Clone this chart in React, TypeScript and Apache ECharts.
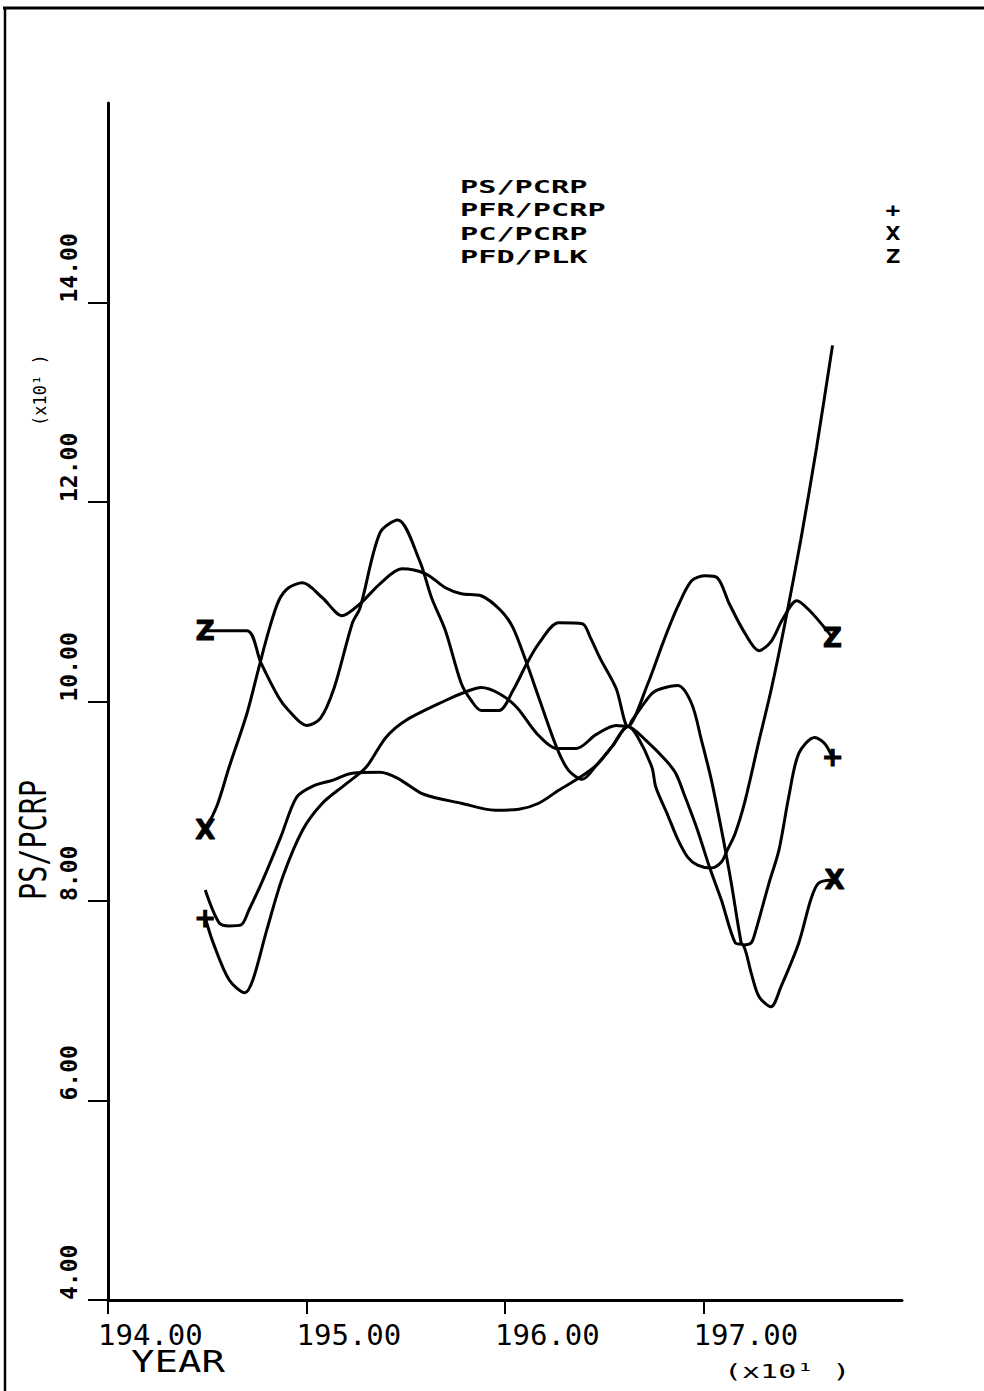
import React, { useEffect, useRef } from "react";
import * as echarts from "echarts";

const xTickValues = [1940, 1950, 1960, 1970];
const yTickValues = [40, 60, 80, 100, 120, 140];
const legendNames = ["PS/PCRP", "PFR/PCRP", "PC/PCRP", "PFD/PLK"];
const legendSymbols = ["", "+", "X", "Z"];

const psPcrp: [number, number][] = [
  [1944.9, 81.1], [1945.6, 77.8], [1946.1, 77.5], [1946.7, 77.6], [1947.1, 79.1],
  [1947.8, 82.1], [1948.7, 86.4], [1949.5, 90.4], [1950.3, 91.5], [1951.3, 92.1],
  [1952.3, 92.8], [1953.7, 92.9], [1954.6, 92.3], [1955.9, 90.7], [1957.8, 89.8],
  [1959.5, 89.1], [1960.7, 89.2], [1961.7, 89.8], [1962.7, 91.1], [1963.7, 92.3],
  [1964.6, 93.6], [1965.4, 95.5], [1966.2, 97.5], [1966.7, 96.4], [1967.4, 93.4],
  [1967.6, 91.4], [1968.2, 88.6], [1968.7, 86.2], [1969.2, 84.4], [1969.7, 83.6],
  [1970.4, 83.3], [1970.9, 83.9], [1971.2, 85.1], [1971.6, 86.8], [1972.1, 90.1],
  [1972.8, 96.1], [1973.4, 101.1], [1974.1, 107.8], [1974.9, 116.2], [1975.7, 125.5],
  [1976.5, 135.7],
];

const pfrPcrp: [number, number][] = [
  [1944.9, 78.3], [1945.3, 75.8], [1946.1, 72.1], [1946.9, 70.8], [1947.3, 72.1],
  [1948.0, 77.1], [1948.8, 82.4], [1949.8, 87.1], [1950.8, 89.8], [1951.9, 91.6],
  [1953.0, 93.4], [1954.0, 96.4], [1955.0, 98.1], [1957.0, 100.1], [1958.2, 101.1],
  [1958.8, 101.4], [1959.7, 100.8], [1960.6, 99.4], [1961.6, 96.8], [1962.6, 95.3],
  [1963.6, 95.3], [1964.6, 96.7], [1965.6, 97.6], [1966.2, 97.5], [1966.4, 98.1],
  [1967.4, 100.8], [1967.9, 101.3], [1968.7, 101.6], [1969.4, 99.8], [1969.9, 96.1],
  [1970.4, 92.1], [1970.9, 87.2], [1971.1, 85.1], [1971.4, 81.8], [1971.9, 75.8],
  [1972.0, 75.6], [1972.4, 75.8], [1972.6, 76.8], [1973.3, 81.8], [1973.8, 85.1],
  [1974.3, 90.5], [1974.8, 94.8], [1975.6, 96.4], [1976.1, 95.8], [1976.5, 94.4],
];

const pcPcrp: [number, number][] = [
  [1944.9, 87.1], [1945.5, 89.6], [1946.1, 93.4], [1947.0, 98.8], [1947.6, 103.4],
  [1948.1, 107.1], [1948.6, 110.1], [1949.1, 111.4], [1949.8, 111.9], [1950.8, 110.4],
  [1951.8, 108.6], [1952.7, 109.8], [1953.7, 111.8], [1954.8, 113.3], [1956.0, 112.8],
  [1957.0, 111.4], [1957.8, 110.8], [1958.8, 110.6], [1959.8, 109.1], [1960.4, 107.4],
  [1961.1, 103.8], [1961.7, 100.4], [1962.6, 95.4], [1963.2, 93.1], [1963.9, 92.2],
  [1964.6, 93.6], [1965.4, 95.5], [1966.2, 97.5], [1967.1, 96.1], [1968.1, 94.1],
  [1968.6, 92.8], [1969.1, 90.3], [1969.7, 87.1], [1970.3, 83.4], [1970.9, 80.1],
  [1971.6, 75.8], [1972.0, 75.6], [1972.4, 72.8], [1972.8, 70.4], [1973.4, 69.4],
  [1973.9, 71.4], [1974.8, 75.8], [1975.4, 80.1], [1975.8, 81.8], [1976.6, 82.1],
];

const pfdPlk: [number, number][] = [
  [1944.9, 107.1], [1947.0, 107.1], [1947.7, 103.9], [1948.6, 100.4], [1949.1, 99.1],
  [1950.0, 97.6], [1950.7, 98.3], [1951.4, 101.4], [1952.3, 107.8], [1952.7, 109.4],
  [1953.7, 116.9], [1954.6, 118.2], [1955.7, 114.1], [1956.3, 110.4], [1957.0, 107.1],
  [1957.8, 101.8], [1958.3, 100.1], [1958.8, 99.1], [1959.7, 99.1], [1960.4, 101.1],
  [1961.1, 103.8], [1961.7, 105.8], [1962.7, 107.9], [1963.9, 107.8], [1964.3, 106.4],
  [1964.8, 104.3], [1965.6, 101.3], [1966.2, 97.5], [1967.2, 101.8], [1968.0, 106.1],
  [1968.7, 109.5], [1969.4, 112.1], [1970.1, 112.6], [1970.7, 112.4], [1971.3, 109.8],
  [1972.1, 106.8], [1972.8, 105.1], [1973.4, 106.0], [1974.0, 108.3], [1974.7, 110.1],
  [1975.4, 109.0], [1976.1, 107.4], [1976.5, 106.4],
];

const seriesData = [psPcrp, pfrPcrp, pcPcrp, pfdPlk];

const FONT = "DejaVu Sans Mono";

export default function App() {
  const ref = useRef<HTMLDivElement>(null);
  useEffect(() => {
    document.body.style.margin = "0";
    const chart = echarts.init(ref.current as HTMLDivElement, null, { renderer: "svg" });

    const lineSeries = seriesData.map((d, i) => ({
      type: "line",
      name: legendNames[i],
      data: d,
      symbol: "none",
      smooth: 0.3,
      lineStyle: { color: "#000", width: 3 },
      z: 2,
    }));

    const markerData: any[] = [];
    seriesData.forEach((d, i) => {
      if (!legendSymbols[i]) return;
      markerData.push({ name: legendSymbols[i], value: d[0] });
      markerData.push({ name: legendSymbols[i], value: d[d.length - 1] });
    });

    const legendGraphics: any[] = [];
    legendNames.forEach((n, i) => {
      legendGraphics.push({
        type: "text",
        x: 460,
        y: 187 + i * 23.3,
        scaleX: 1.68,
        style: {
          text: n,
          fill: "#000",
          font: `bold 18px '${FONT}'`,
          textAlign: "left",
          textVerticalAlign: "middle",
        },
      });
      if (legendSymbols[i]) {
        legendGraphics.push({
          type: "text",
          x: 893,
          y: 187 + i * 23.3,
          scaleX: 1.3,
          style: {
            text: legendSymbols[i],
            fill: "#000",
            font: `bold 19px '${FONT}'`,
            textAlign: "center",
            textVerticalAlign: "middle",
          },
        });
      }
    });

    const option: any = {
      animation: false,
      backgroundColor: "#fff",
      grid: { left: 108, right: 82, top: 103, bottom: 91, outerBoundsMode: "none" },
      xAxis: {
        type: "value",
        min: 1940,
        max: 1980,
        axisLine: { show: true, onZero: false, lineStyle: { color: "#000", width: 3 } },
        axisTick: { show: true, length: 14, customValues: xTickValues, lineStyle: { color: "#000", width: 2 } },
        axisLabel: {
          customValues: xTickValues,
          formatter: (v: number) => (v / 10).toFixed(2),
          color: "#000",
          fontFamily: FONT,
          fontSize: 29,
          align: "left",
          verticalAlign: "top",
          padding: [0, 0, 0, -10],
          margin: 20,
        },
        splitLine: { show: false },
      },
      yAxis: {
        type: "value",
        min: 40,
        max: 160,
        axisLine: { show: true, onZero: false, lineStyle: { color: "#000", width: 3 } },
        axisTick: { show: true, length: 20, customValues: yTickValues, lineStyle: { color: "#000", width: 2 } },
        axisLabel: {
          customValues: yTickValues,
          formatter: (v: number) => (v / 10).toFixed(2),
          color: "#000",
          fontFamily: FONT,
          fontWeight: "bold",
          fontSize: 23,
          rotate: 90,
          align: "left",
          verticalAlign: "middle",
          margin: 39,
        },
        splitLine: { show: false },
      },
      series: [
        ...lineSeries,
        {
          type: "scatter",
          data: markerData,
          symbol: "circle",
          symbolSize: 2,
          itemStyle: { color: "rgba(0,0,0,0)", opacity: 1 },
          z: 5,
          label: {
            show: true,
            position: "inside",
            formatter: "{b}",
            color: "#000",
            opacity: 1,
            fontFamily: "DejaVu Sans",
            fontWeight: "bold",
            fontSize: 26,
            textBorderColor: "#000",
            textBorderWidth: 1,
          },
        },
      ],
      graphic: [
        { type: "line", shape: { x1: 3, y1: 8, x2: 984, y2: 8 }, style: { stroke: "#000", lineWidth: 3 } },
        { type: "line", shape: { x1: 5, y1: 7, x2: 5, y2: 1391 }, style: { stroke: "#000", lineWidth: 2.5 } },
        ...legendGraphics,
        {
          type: "text",
          x: 33,
          y: 900,
          rotation: Math.PI / 2,
          scaleX: 0.75,
          style: { text: "PS/PCRP", fill: "#000", font: `38px '${FONT}'`, textAlign: "left", textVerticalAlign: "middle" },
        },
        {
          type: "text",
          x: 40,
          y: 426,
          rotation: Math.PI / 2,
          style: { text: "(x10\u00B9 )", fill: "#000", font: `17px '${FONT}'`, textAlign: "left", textVerticalAlign: "middle" },
        },
        {
          type: "text",
          x: 131,
          y: 1362,
          scaleX: 1.3,
          style: { text: "YEAR", fill: "#000", font: `30px '${FONT}'`, textAlign: "left", textVerticalAlign: "middle" },
        },
        {
          type: "text",
          x: 724,
          y: 1371,
          scaleX: 1.5,
          style: { text: "(x10\u00B9 )", fill: "#000", font: `20px '${FONT}'`, textAlign: "left", textVerticalAlign: "middle" },
        },
      ],
    };

    chart.setOption(option);
    return () => chart.dispose();
  }, []);
  return <div ref={ref} style={{ width: 984, height: 1391 }} />;
}
